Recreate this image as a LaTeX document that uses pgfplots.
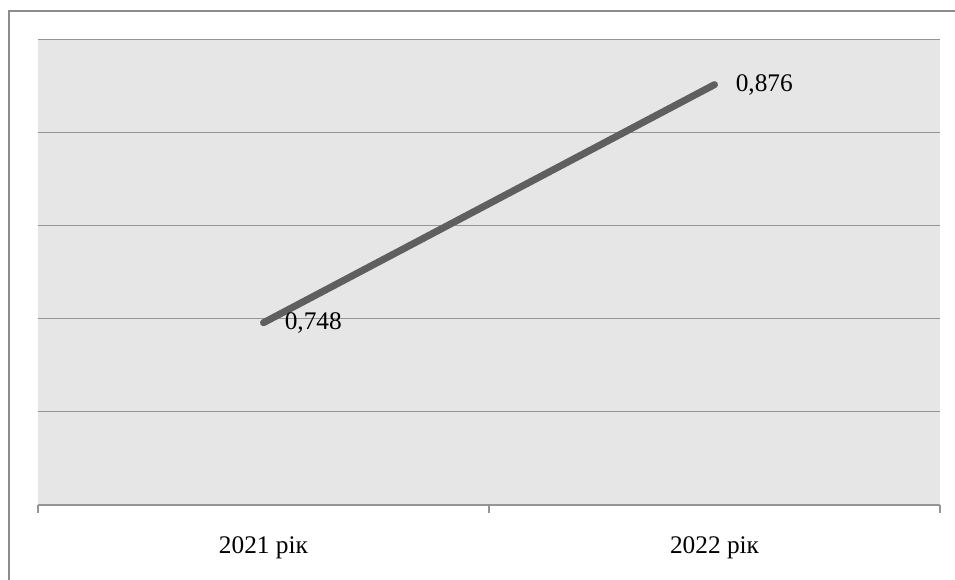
\documentclass[border=0pt]{standalone}
\usepackage{pgfplots}
\pgfplotsset{compat=1.18}
\usepackage{fontspec}
\setmainfont{Liberation Serif}
\definecolor{bgc}{HTML}{E6E6E6}
\definecolor{gridc}{HTML}{959595}
\definecolor{linec}{HTML}{5F5F5F}
\definecolor{framec}{HTML}{8C8C8C}
\begin{document}
\begin{tikzpicture}[x=0.75pt,y=0.75pt]
\useasboundingbox (0,0) rectangle (955,580);
\fill[white] (0,0) rectangle (955,580);
\draw[framec, line width=1.5pt] (9,0) -- (9,569) -- (955,569);
\begin{axis}[
  at={(28.5pt,56.25pt)}, anchor=south west,
  scale only axis, width=676.5pt, height=348.75pt,
  xmin=0, xmax=2, ymin=0.65, ymax=0.9,
  xtick={0,1,2}, x tick label as interval,
  xticklabels={2021 рік, 2022 рік},
  ytick={0.65,0.7,0.75,0.8,0.85,0.9}, yticklabels={},
  ymajorgrids, grid style={gridc, line width=0.75pt},
  axis x line*=bottom, axis y line*=left,
  y axis line style={draw=none}, ytick style={draw=none},
  x axis line style={gridc, line width=1pt, -},
  xtick style={gridc, line width=1pt},
  tick align=outside, major tick length=6pt,
  axis background/.style={fill=bgc},
  xticklabel style={font=\fontsize{19}{22}\selectfont, yshift=-14pt},
  clip=false,
]
\addplot[linec, line width=5.25pt, line cap=round,
  nodes near coords, point meta=explicit symbolic,
  every node near coord/.append style={anchor=west, xshift=10pt, yshift=-0pt, text=black, font=\fontsize{19}{22}\selectfont}]
  coordinates {(0.5,0.748) [0,748] (1.5,0.876) [0,876]};
\end{axis}
\end{tikzpicture}
\end{document}
